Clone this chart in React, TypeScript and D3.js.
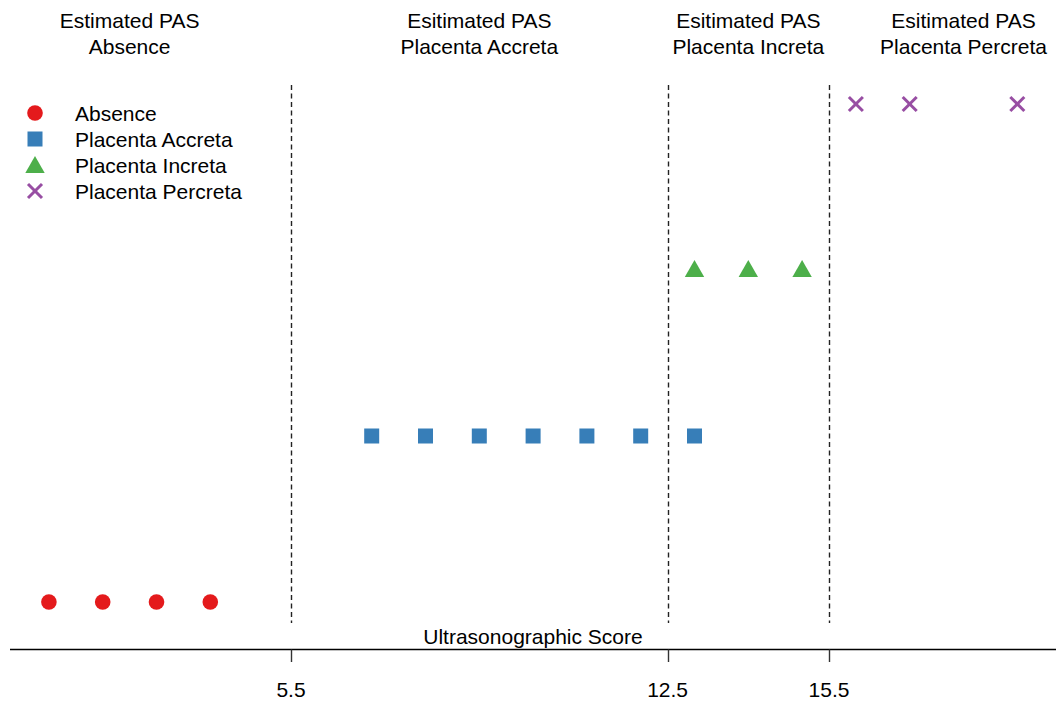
import React from "react";
import * as d3 from "d3";

const absenceScores = [1, 2, 3, 4];
const accretaScores = [7, 8, 9, 10, 11, 12, 13];
const incretaScores = [13, 14, 15];
const percretaScores = [16, 17, 19];

const seriesNames = ["Absence", "Placenta Accreta", "Placenta Increta", "Placenta Percreta"];
const seriesColors = ["#E41A1C", "#377EB8", "#4DAF4A", "#984EA3"];
const cutoffs = [5.5, 12.5, 15.5];
const tickLabels = ["5.5", "12.5", "15.5"];
const headerLine1 = ["Estimated PAS", "Esitimated PAS", "Esitimated PAS", "Esitimated PAS"];
const headerLine2 = ["Absence", "Placenta Accreta", "Placenta Increta", "Placenta Percreta"];
const headerCenters = [2.5, 9, 14, 18];
const axisTitle = "Ultrasonographic Score";

const W = 1056;
const H = 704;
const FONT = "'Liberation Sans', Arial, sans-serif";

function Symbol({ kind, x, y, color }: { kind: number; x: number; y: number; color: string }) {
  if (kind === 0) return <circle cx={x} cy={y} r={7.8} fill={color} />;
  if (kind === 1) return <rect x={x - 7.5} y={y - 7.5} width={15} height={15} fill={color} />;
  if (kind === 2) {
    const path = d3.path();
    path.moveTo(x, y - 10);
    path.lineTo(x + 9.7, y + 7);
    path.lineTo(x - 9.7, y + 7);
    path.closePath();
    return <path d={path.toString()} fill={color} />;
  }
  const s = 7;
  return (
    <g stroke={color} strokeWidth={3}>
      <line x1={x - s} y1={y - s} x2={x + s} y2={y + s} />
      <line x1={x - s} y1={y + s} x2={x + s} y2={y - s} />
    </g>
  );
}

export default function App() {
  const x = d3.scaleLinear().domain([5.5, 15.5]).range([291, 829]);
  const y = d3.scaleLinear().domain([1, 4]).range([602, 104]);
  const series = [absenceScores, accretaScores, incretaScores, percretaScores];
  const axisY = 649.5;

  return (
    <svg width={W} height={H} style={{ position: "absolute", left: 0, top: 0, background: "#fff" }} fontFamily={FONT}>
      {/* header labels */}
      {headerCenters.map((c, i) => (
        <g key={"h" + i}>
          <text x={x(c)} y={28} textAnchor="middle" fontSize={21} fill="#000">{headerLine1[i]}</text>
          <text x={x(c)} y={54} textAnchor="middle" fontSize={21} fill="#000">{headerLine2[i]}</text>
        </g>
      ))}

      {/* dashed cutoffs */}
      {cutoffs.map((c, i) => (
        <line key={"d" + i} x1={Math.round(x(c)) + 0.5} x2={Math.round(x(c)) + 0.5} y1={85} y2={623}
          stroke="#222" strokeWidth={1.4} strokeDasharray="5,3.5" />
      ))}

      {/* points */}
      {series.map((vals, si) =>
        vals.map((v, j) => (
          <Symbol key={si + "-" + j} kind={si} x={x(v)} y={y(si + 1)} color={seriesColors[si]} />
        ))
      )}

      {/* legend */}
      {seriesNames.map((n, i) => (
        <g key={"l" + i}>
          <Symbol kind={i} x={35} y={113 + i * 26 - (i === 2 ? -1 : 0)} color={seriesColors[i]} />
          <text x={75} y={121 + i * 26} fontSize={21} fill="#000">{n}</text>
        </g>
      ))}

      {/* axis */}
      <line x1={10} x2={W} y1={axisY} y2={axisY} stroke="#000" strokeWidth={1.6} />
      {cutoffs.map((c, i) => (
        <g key={"t" + i}>
          <line x1={Math.round(x(c)) + 0.5} x2={Math.round(x(c)) + 0.5} y1={axisY} y2={662} stroke="#333" strokeWidth={1.4} />
          <text x={x(c)} y={697} textAnchor="middle" fontSize={21} fill="#000">{tickLabels[i]}</text>
        </g>
      ))}
      <text x={533} y={644} textAnchor="middle" fontSize={21} fill="#000">{axisTitle}</text>
    </svg>
  );
}
